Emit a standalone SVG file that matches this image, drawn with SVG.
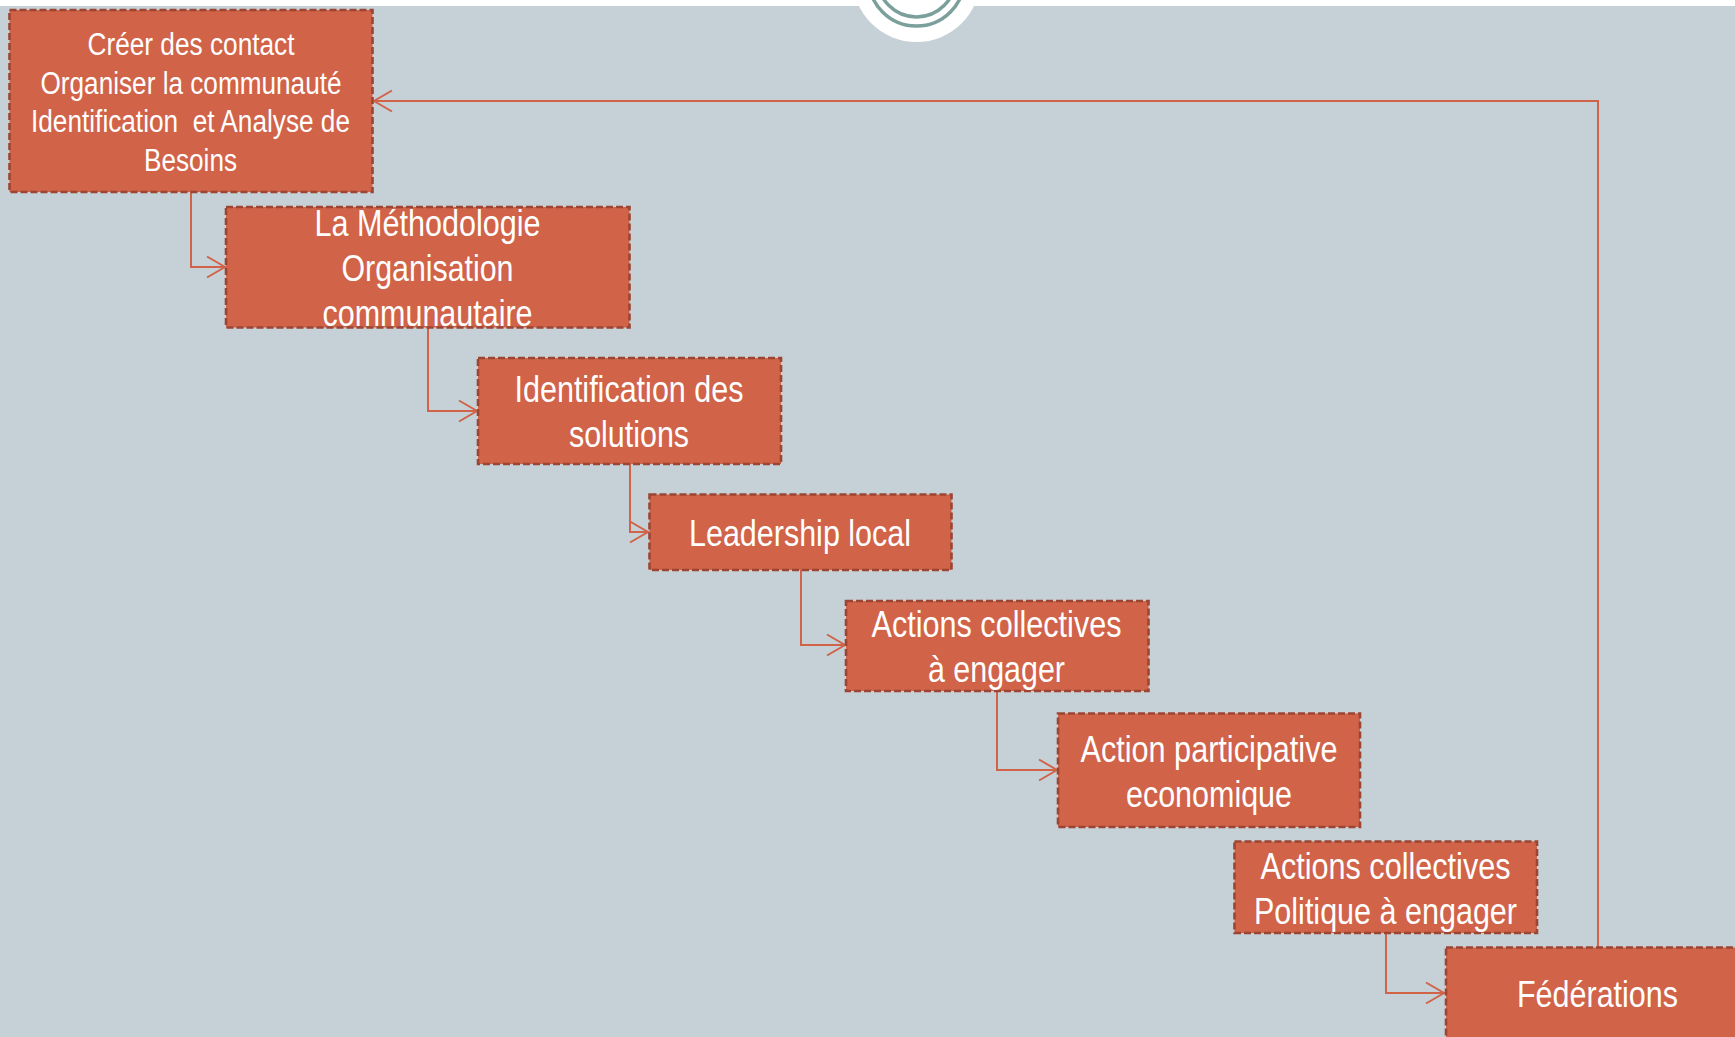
<svg xmlns="http://www.w3.org/2000/svg" width="1735" height="1037" viewBox="0 0 1735 1037">
<style>
.n{fill:#d16349;stroke:#9c4532;stroke-width:2.6;stroke-dasharray:7 3}
.t{fill:#fff;font-family:"Liberation Sans",Arial,sans-serif;text-anchor:middle}
.s{font-size:31px}.b{font-size:36px}
.c{fill:none;stroke:#d16349;stroke-width:2}
</style>
<defs><marker id="a" markerUnits="userSpaceOnUse" markerWidth="22" markerHeight="26" refX="20" refY="12" orient="auto"><path d="M1 1.500L19 12L1 22.500" fill="none" stroke="#d16349" stroke-width="2"/></marker></defs>
<rect width="1735" height="1037" fill="#c5d1d7"/>
<rect width="1735" height="6" fill="#fff"/>
<g id="badge"><circle cx="916.500" cy="-22" r="64" fill="#fff"/><circle cx="916.500" cy="-22" r="48" fill="none" stroke="#7ba09c" stroke-width="3.500"/><circle cx="916.500" cy="-22" r="39" fill="none" stroke="#7ba09c" stroke-width="3.500"/></g>
<g id="connectors">
<path class="c" marker-end="url(#a)" d="M191 192V267H226"/>
<path class="c" marker-end="url(#a)" d="M428 327V411H478"/>
<path class="c" marker-end="url(#a)" d="M630 464V532H649"/>
<path class="c" marker-end="url(#a)" d="M801 570V645H846"/>
<path class="c" marker-end="url(#a)" d="M997 691V770H1058"/>
<path class="c" marker-end="url(#a)" d="M1386 933V993H1445"/>
<path class="c" marker-end="url(#a)" d="M1598 948V101H373"/>
</g>
<g id="n1"><rect class="n" x="9.500" y="10" width="363" height="182"/><text class="t s" x="191" y="55" textLength="207" lengthAdjust="spacingAndGlyphs">Créer des contact</text><text class="t s" x="191" y="94" textLength="301" lengthAdjust="spacingAndGlyphs">Organiser la communauté</text><text class="t s" x="190.500" y="132" textLength="319" lengthAdjust="spacingAndGlyphs" xml:space="preserve">Identification  et Analyse de</text><text class="t s" x="190.500" y="171" textLength="93" lengthAdjust="spacingAndGlyphs">Besoins</text></g>
<g id="n2"><rect class="n" x="226" y="207" width="403.500" height="120.500"/><text class="t b" x="427.500" y="236" textLength="226" lengthAdjust="spacingAndGlyphs">La Méthodologie</text><text class="t b" x="427.500" y="281" textLength="172" lengthAdjust="spacingAndGlyphs">Organisation</text><text class="t b" x="427.500" y="326" textLength="210" lengthAdjust="spacingAndGlyphs">communautaire</text></g>
<g id="n3"><rect class="n" x="478" y="358" width="303" height="106"/><text class="t b" x="629" y="402" textLength="229" lengthAdjust="spacingAndGlyphs">Identification des</text><text class="t b" x="629" y="447" textLength="120" lengthAdjust="spacingAndGlyphs">solutions</text></g>
<g id="n4"><rect class="n" x="649.500" y="494.500" width="302" height="75.500"/><text class="t b" x="800" y="546" textLength="222" lengthAdjust="spacingAndGlyphs">Leadership local</text></g>
<g id="n5"><rect class="n" x="846" y="601" width="302.500" height="90"/><text class="t b" x="996.500" y="637" textLength="250" lengthAdjust="spacingAndGlyphs">Actions collectives</text><text class="t b" x="996.500" y="682" textLength="137" lengthAdjust="spacingAndGlyphs">à engager</text></g>
<g id="n6"><rect class="n" x="1058" y="713.500" width="302" height="113.500"/><text class="t b" x="1209" y="762" textLength="257" lengthAdjust="spacingAndGlyphs">Action participative</text><text class="t b" x="1209" y="807" textLength="166" lengthAdjust="spacingAndGlyphs">economique</text></g>
<g id="n7"><rect class="n" x="1234.500" y="841.500" width="302.500" height="91.500"/><text class="t b" x="1385.500" y="879" textLength="250" lengthAdjust="spacingAndGlyphs">Actions collectives</text><text class="t b" x="1385.500" y="924" textLength="263" lengthAdjust="spacingAndGlyphs">Politique à engager</text></g>
<g id="n8"><rect class="n" x="1446" y="947.500" width="304" height="110"/><text class="t b" x="1597.500" y="1007" textLength="161" lengthAdjust="spacingAndGlyphs">Fédérations</text></g>
</svg>
